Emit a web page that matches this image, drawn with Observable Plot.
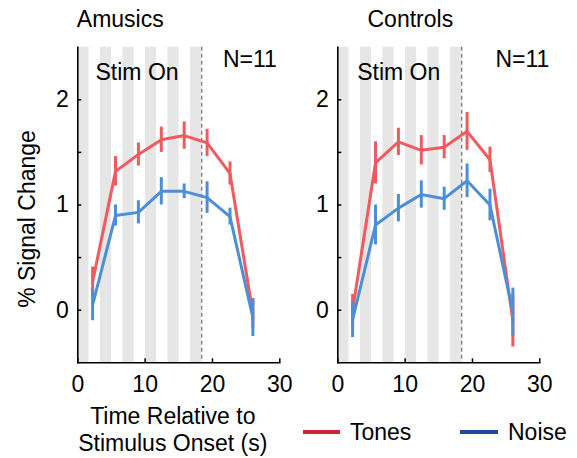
<!DOCTYPE html>
<html>
<head>
<meta charset="utf-8">
<script src="https://cdn.jsdelivr.net/npm/d3@7"></script>
<script src="https://cdn.jsdelivr.net/npm/@observablehq/plot@0.6"></script>
<style>
  html, body { margin: 0; padding: 0; background: white; }
  #wrap { position: relative; width: 577px; height: 458px; background: white; font-family: "Liberation Sans", Arial, Helvetica, sans-serif; }
  #charts { display: flex; }
  #charts svg { display: block; overflow: visible; }
  .leg { position: absolute; font-size: 23px; line-height: 1; }
  .legline { position: absolute; height: 4px; }
</style>
</head>
<body>
<div id="wrap">
  <div id="charts"></div>
  <div class="legline" style="left:303px; top:430px; width:37px; background:#c8283a;"></div>
  <div class="leg" style="left:350px; top:421px;">Tones</div>
  <div class="legline" style="left:460px; top:430px; width:38px; background:#1f4a9e;"></div>
  <div class="leg" style="left:508px; top:421px;">Noise</div>
</div>
<script>
// ---- data ----
const times = [2.2, 5.6, 9.0, 12.4, 15.8, 19.2, 22.6, 26.0];

const amusicsTones    = [0.27, 1.32, 1.48, 1.62, 1.66, 1.59, 1.30, -0.03];
const amusicsTonesErr = [0.14, 0.14, 0.11, 0.12, 0.13, 0.13, 0.11, 0.14];
const amusicsNoise    = [0.05, 0.90, 0.93, 1.13, 1.13, 1.07, 0.89, -0.07];
const amusicsNoiseErr = [0.15, 0.10, 0.11, 0.13, 0.07, 0.15, 0.08, 0.18];

const controlsTones    = [0.00, 1.40, 1.60, 1.52, 1.55, 1.70, 1.43, -0.10];
const controlsTonesErr = [0.15, 0.20, 0.13, 0.14, 0.11, 0.18, 0.12, 0.25];
const controlsNoise    = [-0.09, 0.81, 0.97, 1.10, 1.06, 1.23, 1.00, -0.02];
const controlsNoiseErr = [0.17, 0.19, 0.13, 0.13, 0.11, 0.16, 0.15, 0.23];

const stripeStart = [0, 3.35, 6.69, 10.04, 13.38, 16.73];
const stripeEnd   = [1.67, 5.02, 8.36, 11.71, 15.05, 18.4];
const stimEnd = 18.4;

const xTicks = [0, 10, 20, 30];
const yTicks = [0, 0.5, 1, 1.5, 2];
const yTickLabels = ["0", "", "1", "", "2"];
const panelTitles = ["Amusics", "Controls"];
const nLabel = "N=11";
const stimLabel = "Stim On";
const xLabel = "Time Relative to\nStimulus Onset (s)";
const yLabel = "% Signal Change";

// ---- styling ----
const RED = "#f15a5e";
const BLUE = "#4a8fd8";
const FONT = "'Liberation Sans', Arial, Helvetica, sans-serif";

function rows(vals, errs) {
  return times.map((t, i) => ({t, v: vals[i], e: errs[i]}));
}
const stripes = stripeStart.map((s, i) => ({start: s, end: stripeEnd[i]}));

function panel(o) {
  const tones = rows(o.tones, o.tonesErr);
  const noise = rows(o.noise, o.noiseErr);
  const marks = [
    Plot.rect(stripes, {x1: "start", x2: "end", fill: "#e6e6e6"}),
    Plot.ruleX([stimEnd], {stroke: "#7a7a7a", strokeWidth: 1.3, strokeDasharray: "4,3"}),
    Plot.ruleX(tones, {x: "t", y1: d => d.v - d.e, y2: d => d.v + d.e, stroke: RED, strokeWidth: 3}),
    Plot.line(tones, {x: "t", y: "v", stroke: RED, strokeWidth: 3}),
    Plot.ruleX(noise, {x: "t", y1: d => d.v - d.e, y2: d => d.v + d.e, stroke: BLUE, strokeWidth: 3}),
    Plot.line(noise, {x: "t", y: "v", stroke: BLUE, strokeWidth: 3}),
    Plot.axisX({ticks: xTicks, tickSize: -4, tickPadding: 16.5, label: null, strokeWidth: 1.5}),
    Plot.axisY({ticks: yTicks, tickSize: -4, tickPadding: 13, label: null, strokeWidth: 1.5,
      tickFormat: d => yTickLabels[yTicks.indexOf(d)]}),
    Plot.frame({anchor: "left", stroke: "black", strokeWidth: 1.6}),
    Plot.frame({anchor: "bottom", stroke: "black", strokeWidth: 1.6}),
    Plot.text([o.title], {frameAnchor: "top-left", textAnchor: "start", lineAnchor: "middle", dx: o.titleDx, dy: -27.5}),
    Plot.text([stimLabel], {frameAnchor: "top-left", textAnchor: "start", lineAnchor: "middle", dx: o.stimDx, dy: 25}),
    Plot.text([nLabel], {frameAnchor: "top-right", textAnchor: "end", lineAnchor: "middle", dx: o.nDx, dy: 12})
  ];
  if (o.labels) {
    marks.push(Plot.text([xLabel], {frameAnchor: "bottom", textAnchor: "middle", lineAnchor: "top", dx: -6, dy: 42, lineHeight: 1.17}));
    marks.push(Plot.text([yLabel], {frameAnchor: "left", rotate: -90, textAnchor: "middle", lineAnchor: "middle", dx: -50, dy: 14}));
  }
  return Plot.plot({
    width: o.width,
    height: 458,
    marginTop: 46.7,
    marginBottom: 95.7,
    marginLeft: o.marginLeft,
    marginRight: o.marginRight,
    x: {domain: [0, 30]},
    y: {domain: [-0.5, 2.5]},
    style: {fontFamily: FONT, fontSize: "23px", color: "black", background: "transparent", overflow: "visible"},
    marks
  });
}

const charts = document.getElementById("charts");
charts.append(panel({
  title: panelTitles[0], tones: amusicsTones, tonesErr: amusicsTonesErr, noise: amusicsNoise, noiseErr: amusicsNoiseErr,
  width: 289, marginLeft: 77.3, marginRight: 9.7, titleDx: -1, stimDx: 17.7, nDx: -3, labels: true
}));
charts.append(panel({
  title: panelTitles[1], tones: controlsTones, tonesErr: controlsTonesErr, noise: controlsNoise, noiseErr: controlsNoiseErr,
  width: 288, marginLeft: 48.3, marginRight: 37.7, titleDx: 29.7, stimDx: 19.4, nDx: 9.5, labels: false
}));
</script>
</body>
</html>
